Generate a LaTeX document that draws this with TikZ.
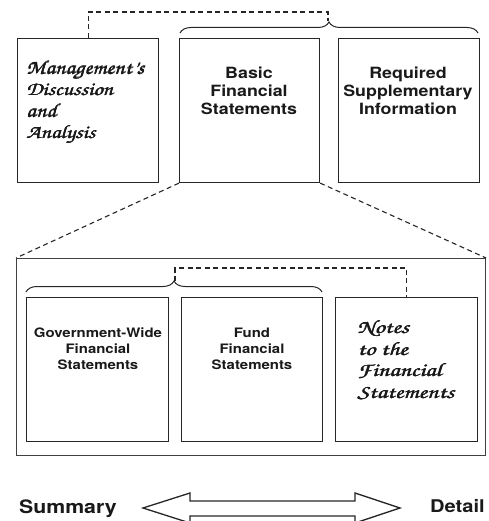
\documentclass[tikz,border=0pt]{standalone}
\usepackage{fontspec}
\usepackage{graphicx}
\newfontfamily\hv[FakeStretch=1.15]{TeX Gyre Heros}
\usetikzlibrary{decorations.pathreplacing}
\newcommand{\scr}{\fontencoding{OT1}\fontfamily{pzc}\fontseries{mb}\fontshape{it}\fontsize{19}{21.5}\selectfont}
\newcommand{\fb}[1]{\leavevmode\rlap{#1}\rlap{\kern0.45pt\raise0.15pt\hbox{#1}}\kern0.25pt#1}
\newcommand{\sline}[2]{\scalebox{#1}[1]{\fb{#2}}}
\tikzset{
  box/.style={draw=black!85, line width=1.1pt, anchor=north west, inner sep=0pt},
  dsh/.style={draw=black!85, line width=1.1pt, dash pattern=on 5pt off 3.5pt},
  brc/.style={draw=black!85, line width=1pt, decorate, decoration={brace, amplitude=11pt}},
  lbl/.style={text=black!90, inner sep=0pt, align=center},
  big/.style={lbl, font=\hv\bfseries\fontsize{15.5}{18}\selectfont},
  mid/.style={lbl, font=\hv\bfseries\fontsize{13}{16}\selectfont},
  scrl/.style={text=black!90, inner sep=0pt, align=left, anchor=north west, font=\scr},
}
\begin{document}
\begin{tikzpicture}[x=1pt,y=-1pt]
\useasboundingbox (0,0) rectangle (488,521);
% top row
\node[box, minimum width=141pt, minimum height=144pt] (mda) at (17,38) {};
\node[box, minimum width=140pt, minimum height=144pt] (bfs) at (179,38) {};
\node[box, minimum width=141pt, minimum height=144pt] (rsi) at (338,38) {};
\node[scrl] (mdat) at (26,60) {\sline{1.2}{Management's}\\\sline{1.2}{Discussion}\\\sline{1.2}{and}\\\sline{1.2}{Analysis}};
\node[big, anchor=north] (bfst) at (249,67) {Basic\\Financial\\Statements};
\node[big, anchor=north] (rsit) at (408,67) {Required\\Supplementary\\Information};
% top brace
\coordinate (b1l) at (180,33);
\coordinate (b1r) at (478,33);
\draw[brc] (b1l) -- (b1r);
\coordinate (tip1) at (328,21);
\draw[dsh] (mda.north) -- ++(0,-26) -| (tip1);
% outer box
\node[box, draw=black!75, minimum width=469pt, minimum height=197pt] (outer) at (16,258) {};
\draw[dsh] (bfs.south west) -- (outer.north west);
\draw[dsh] (bfs.south east) -- (outer.north east);
% inner row
\node[box, minimum width=142pt, minimum height=144pt] (gw) at (26,297) {};
\node[box, minimum width=141pt, minimum height=144pt] (ff) at (181,297) {};
\node[box, minimum width=142pt, minimum height=144pt] (nt) at (335,297) {};
\node[mid, anchor=north] (gwt) at (98,328) {Government-Wide\\Financial\\Statements};
\node[mid, anchor=north] (fft) at (252,328) {Fund\\Financial\\Statements};
\node[scrl] (ntt) at (357,320) {\sline{1.3}{Notes}\\\sline{1.3}{to the}\\\sline{1.3}{Financial}\\\sline{1.3}{Statements}};
% lower brace
\coordinate (b2l) at (26,292);
\coordinate (b2r) at (322,292);
\draw[brc] (b2l) -- (b2r);
\coordinate (tip2) at (175,281);
\draw[dsh] (tip2) -- ++(0,-13) -| (nt.north);
% bottom
\node[font=\hv\bfseries\fontsize{18.5}{20}\selectfont, text=black!90, inner sep=0pt, anchor=base west] (sum) at (19,513) {Summary};
\node[font=\hv\bfseries\fontsize{17.5}{20}\selectfont, text=black!90, inner sep=0pt, anchor=base east] (det) at (485,512) {Detail};
\coordinate (al) at (143,508);
\coordinate (ar) at (400,508);
\draw[draw=black!85, line width=1.3pt, line join=miter]
  (al) -- (190,493) -- (190,501) -- (355,501) -- (355,493) -- (ar)
  -- (355,523) -- (355,516) -- (190,516) -- (190,523) -- cycle;
\end{tikzpicture}
\end{document}
